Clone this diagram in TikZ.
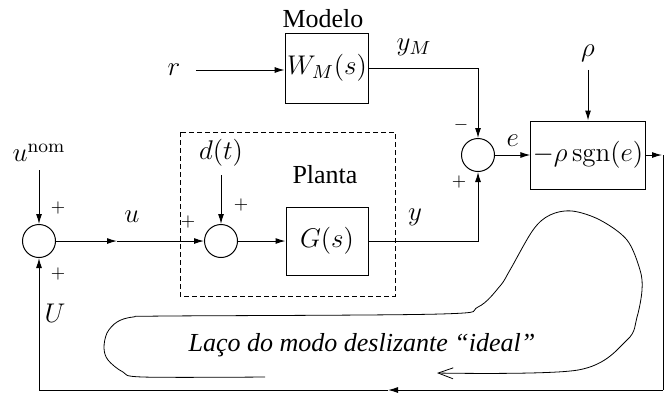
\documentclass[tikz,border=0pt,12pt]{standalone}
\usepackage{fix-cm}
\usepackage{amsmath}
\usepackage[no-math]{fontspec}
\setmainfont{Liberation Serif}
\usepackage{tikz}
\usetikzlibrary{arrows.meta,positioning,calc}

\begin{document}
\begin{tikzpicture}[
    x=0.5pt, y=-0.5pt,
    line width=0.5pt,
    font=\fontsize{13.5}{16}\selectfont,
    >={Latex[length=5pt,width=3pt]},
    box/.style={rectangle, draw, minimum width=41pt, minimum height=35pt, inner sep=1pt},
    sumnode/.style={circle, draw, minimum size=16.5pt, inner sep=0pt},
    arrow/.style={->},
    txt/.style={font=\fontsize{13}{15}\selectfont},
    sign/.style={font=\fontsize{9}{10}\selectfont, inner sep=0pt},
    loopline/.style={line width=0.4pt, -{Straight Barb[length=7.5pt,width=5.5pt]}}
]
\useasboundingbox (0,0) rectangle (672,393);

% blocks
\node[box] (WM) at (327,68) {$W_M(s)$};
\node[box, minimum height=34pt] (G) at (327,241) {$G(s)$};
\node[box, minimum width=55pt, minimum height=34pt] (sgn) at (588,155) {$-\rho\,\mathrm{sgn}(e)$};
\node[sumnode] (sumL) at (39,241) {};
\node[sumnode] (sum1) at (221,241) {};
\node[sumnode] (sum2) at (478,155) {};
\draw[dash pattern=on 2.5pt off 1.5pt] (180,132) rectangle (395,296);

% labels
\node[txt] (modelo) at (323,19) {Modelo};
\node[txt] (planta) at (325,175) {Planta};
\node (r) at (174,70) {$r$};
\node (yM) at (414,47) {$y_M$};
\node (rho) at (588,53) {$\rho$};
\node (unom) at (39,153) {$u^{\mathrm{nom}}$};
\node (dt) at (221,153) {$d(t)$};
\node (u) at (132,217) {$u$};
\node (y) at (415,217) {$y$};
\node (U) at (55,313) {$U$};
\node[txt, font=\fontsize{13}{15}\selectfont\itshape] (laco) at (362,345) {Laço do modo deslizante “ideal”};

% signs
\node[sign] (pL1) at (58,208) {$+$};
\node[sign] (pL2) at (58,274) {$+$};
\node[sign] (p11) at (188,222) {$+$};
\node[sign] (p12) at (241,205) {$+$};
\node[sign] (m2) at (461,125) {$-$};
\node[sign] (p2) at (459,182) {$+$};

% connectors
\coordinate (uM) at (117,241);
\coordinate (cR) at (662,155);
\coordinate (cB) at (663,390);
\coordinate (cM) at (388,390);
\coordinate (cL) at (39,390);

\draw[arrow, shorten <=3.5pt] (r) -- (r -| WM.west);
\draw[arrow] (WM.east) -| (sum2.north);
\draw[arrow] (sum2) -- node[above] {$e$} (sgn);
\draw[arrow] (rho) -- (sgn);
\draw[arrow] (sgn) -- (cR);
\draw (cR -| cB) -- (cB);
\draw[arrow] (cB) -- (cM);
\draw[arrow] (cM) -- (cL) -- (sumL);
\draw[arrow] (unom) -- (sumL);
\draw[arrow] (dt) -- (sum1);
\draw[arrow] (sumL) -- (uM);
\draw[arrow] (uM) -- (sum1);
\draw[arrow] (sum1) -- (G);
\draw[arrow] (G.east) -| (sum2.south);

% ideal sliding loop
\draw[loopline] plot[smooth, tension=0.55] coordinates {
  (265,377) (143,377) (123,372) (108,360) (104,348) (107,333) (117,322)
  (133,317) (167,316) (440,314) (478,307) (500,286) (510,270) (533,230)
  (550,215) (572,211) (600,220) (627,240) (640,270) (642,290) (637,317)
  (627,340) (578,370) (437,373)};

\end{tikzpicture}
\end{document}
